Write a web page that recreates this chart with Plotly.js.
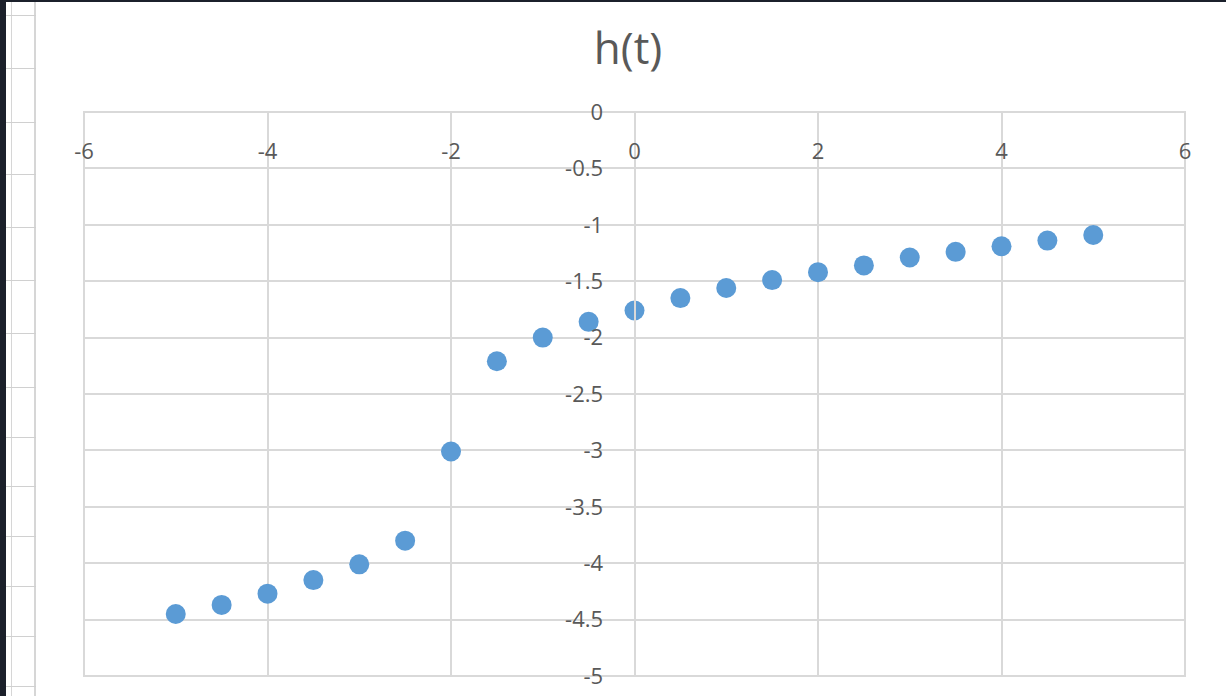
<!DOCTYPE html>
<html>
<head>
<meta charset="utf-8">
<script src="https://cdn.plot.ly/plotly-3.0.1.min.js"></script>
<style>
  html, body { margin: 0; padding: 0; background: #ffffff; width: 1226px; height: 696px; overflow: hidden; position: relative; }
  #topbar { position: absolute; left: 0; top: 0; width: 1226px; height: 2px; background: #1b202b; }
  #leftbar { position: absolute; left: 0; top: 0; width: 6px; height: 696px; background: #1b202b; }
  .vl { position: absolute; top: 2px; width: 2px; height: 694px; background: #d6d6d6; }
  .hl { position: absolute; left: 6px; width: 30px; height: 1px; background: #d0d0d0; }
  #chart { position: absolute; left: 0; top: 0; width: 1226px; height: 696px; }
</style>
</head>
<body>
<div id="topbar"></div>
<div id="leftbar"></div>
<div class="vl" style="left:11px; width:1px;"></div>
<div class="vl" style="left:34px;"></div>
<div id="rows"></div>
<div id="chart"></div>
<script>
// Data
const tValues = [-5, -4.5, -4, -3.5, -3, -2.5, -2, -1.5, -1, -0.5, 0, 0.5, 1, 1.5, 2, 2.5, 3, 3.5, 4, 4.5, 5];
const hValues = [-4.45, -4.37, -4.27, -4.15, -4.01, -3.80, -3.01, -2.21, -2.00, -1.86, -1.76, -1.65, -1.56, -1.49, -1.42, -1.36, -1.29, -1.24, -1.19, -1.14, -1.09];
const xTicks = [-6, -4, -2, 0, 2, 4, 6];
const yTicks = [0, -0.5, -1, -1.5, -2, -2.5, -3, -3.5, -4, -4.5, -5];
const chartTitle = "h(t)";

// spreadsheet row lines (decoration)
const rowLines = [15, 68, 122, 174, 227, 280, 333, 387, 437, 486, 536, 586, 636, 686];
const rows = document.getElementById('rows');
rowLines.forEach(function (y) {
  const d = document.createElement('div');
  d.className = 'hl';
  d.style.top = y + 'px';
  rows.appendChild(d);
});

const gridColor = '#d9d9d9';
const textColor = '#595959';
const fontFam = '"Open Sans", "Noto Sans", sans-serif';

const trace = {
  x: tValues,
  y: hValues,
  type: 'scatter',
  mode: 'markers',
  marker: { color: '#5b9bd5', size: 20 },
  hoverinfo: 'x+y',
  cliponaxis: false
};

const layout = {
  width: 1226,
  height: 696,
  paper_bgcolor: 'rgba(0,0,0,0)',
  plot_bgcolor: '#ffffff',
  margin: { l: 84, r: 41, t: 112, b: 20, pad: 0 },
  showlegend: false,
  title: {
    text: chartTitle,
    font: { family: fontFam, size: 44, color: textColor },
    x: 628 / 1226, xref: 'container', xanchor: 'center',
    y: 1 - 49 / 696, yref: 'container', yanchor: 'middle'
  },
  font: { family: fontFam, color: textColor, size: 22 },
  xaxis: {
    range: [-6, 6],
    tickvals: xTicks,
    ticktext: xTicks.map(String),
    anchor: 'free',
    position: 1,
    side: 'bottom',
    ticklabelposition: 'outside',
    ticklabelstandoff: 24,
    showgrid: true,
    gridcolor: gridColor,
    gridwidth: 2,
    zeroline: false,
    showline: false,
    ticks: '',
    tickfont: { family: fontFam, size: 22, color: textColor },
    fixedrange: true,
    automargin: false
  },
  yaxis: {
    range: [-5, 0],
    tickvals: yTicks,
    ticktext: yTicks.map(String),
    anchor: 'free',
    position: 0.5,
    side: 'left',
    ticklabelstandoff: 26,
    showgrid: true,
    gridcolor: gridColor,
    gridwidth: 2,
    zeroline: false,
    showline: true,
    linecolor: gridColor,
    linewidth: 2,
    ticks: '',
    tickfont: { family: fontFam, size: 22, color: textColor },
    fixedrange: true,
    automargin: false
  },
  shapes: [
    { type: 'rect', xref: 'paper', yref: 'paper', x0: 0, x1: 1, y0: 0, y1: 1,
      line: { color: gridColor, width: 2 }, layer: 'below' }
  ]
};

Plotly.newPlot('chart', [trace], layout, { displayModeBar: false, staticPlot: true });
</script>
</body>
</html>
